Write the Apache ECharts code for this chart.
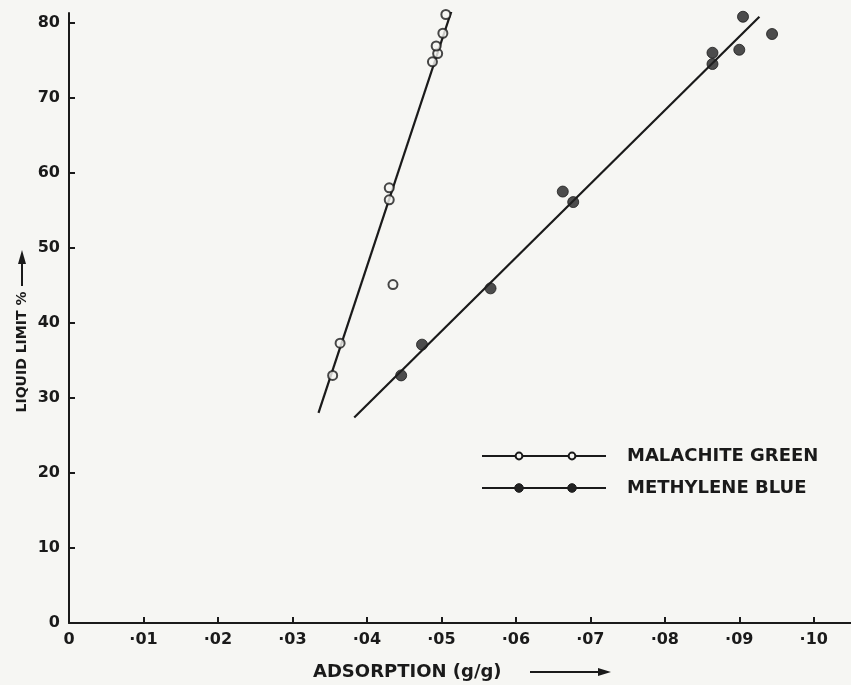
<!DOCTYPE html>
<html>
<head>
<meta charset="utf-8">
<script src="https://cdn.jsdelivr.net/npm/echarts@6/dist/echarts.min.js"></script>
<style>
html,body{margin:0;padding:0;background:#f6f6f3;}
#chart{width:851px;height:685px;}
</style>
</head>
<body>
<div id="chart"></div>
<script>
// Data
const malachiteX = [0.0354, 0.0364, 0.0435, 0.0430, 0.0430, 0.0488, 0.0495, 0.0493, 0.0502, 0.0506];
const malachiteY = [33.0, 37.3, 45.1, 56.4, 58.0, 74.8, 75.9, 76.9, 78.6, 81.1];
const methyleneX = [0.0446, 0.0474, 0.0566, 0.0663, 0.0677, 0.0864, 0.0864, 0.0900, 0.0905, 0.0944];
const methyleneY = [33.0, 37.1, 44.6, 57.5, 56.1, 74.5, 76.0, 76.4, 80.8, 78.5];
const malachiteLineX = [0.0335, 0.0514];
const malachiteLineY = [28.0, 81.7];
const methyleneLineX = [0.0383, 0.0927];
const methyleneLineY = [27.4, 80.8];
const seriesNames = ['MALACHITE GREEN', 'METHYLENE BLUE'];

const zip = (xs, ys) => xs.map((x, i) => [x, ys[i]]);
const ink = '#1a1a1a';
const paper = '#f6f6f3';
const font = '"DejaVu Sans", "Liberation Sans", sans-serif';

const chart = echarts.init(document.getElementById('chart'));
chart.setOption({
  backgroundColor: paper,
  animation: false,
  grid: {left: 69, right: -2, top: 13, bottom: 62},
  xAxis: {
    type: 'value', min: 0, max: 0.105, interval: 0.01,
    splitLine: {show: false},
    axisLine: {lineStyle: {color: ink, width: 2}},
    axisTick: {inside: true, length: 6, lineStyle: {color: ink, width: 2}},
    axisLabel: {
      color: ink, fontFamily: font, fontWeight: 'bold', fontSize: 16, margin: 9,
      showMaxLabel: false,
      formatter: v => {
        const k = Math.round(v * 100);
        if (Math.abs(v * 100 - k) > 1e-6) return '';
        return k === 0 ? '0' : '·' + String(k).padStart(2, '0');
      }
    }
  },
  yAxis: {
    type: 'value', min: 0, max: 81.3, interval: 10,
    splitLine: {show: false},
    axisLine: {lineStyle: {color: ink, width: 2}},
    axisTick: {inside: true, length: 6, lineStyle: {color: ink, width: 2}},
    axisLabel: {
      color: ink, fontFamily: font, fontWeight: 'bold', fontSize: 16, margin: 9,
      showMaxLabel: false,
      formatter: v => (Math.abs(v % 10) < 1e-6 ? String(v) : '')
    }
  },
  series: [
    {type: 'line', data: zip(malachiteLineX, malachiteLineY), showSymbol: false,
     lineStyle: {color: ink, width: 2.2}, z: 2},
    {type: 'line', data: zip(methyleneLineX, methyleneLineY), showSymbol: false,
     lineStyle: {color: ink, width: 2.2}, z: 2},
    {name: seriesNames[0], type: 'scatter', data: zip(malachiteX, malachiteY),
     symbol: 'circle', symbolSize: 9,
     itemStyle: {color: paper, borderColor: ink, borderWidth: 2}, z: 3},
    {name: seriesNames[1], type: 'scatter', data: zip(methyleneX, methyleneY),
     symbol: 'circle', symbolSize: 11,
     itemStyle: {color: '#222', borderColor: ink, borderWidth: 1}, z: 3}
  ],
  graphic: [
    // legend
    {type: 'line', shape: {x1: 482, y1: 456, x2: 606, y2: 456}, style: {stroke: ink, lineWidth: 2.2}},
    {type: 'circle', shape: {cx: 519, cy: 456, r: 3.4}, style: {fill: paper, stroke: ink, lineWidth: 2}},
    {type: 'circle', shape: {cx: 572, cy: 456, r: 3.4}, style: {fill: paper, stroke: ink, lineWidth: 2}},
    {type: 'text', x: 627, y: 456, style: {text: seriesNames[0], fill: ink, font: 'bold 18px ' + font, verticalAlign: 'middle'}},
    {type: 'line', shape: {x1: 482, y1: 488, x2: 606, y2: 488}, style: {stroke: ink, lineWidth: 2.2}},
    {type: 'circle', shape: {cx: 519, cy: 488, r: 4.3}, style: {fill: '#222', stroke: ink, lineWidth: 1}},
    {type: 'circle', shape: {cx: 572, cy: 488, r: 4.3}, style: {fill: '#222', stroke: ink, lineWidth: 1}},
    {type: 'text', x: 627, y: 488, style: {text: seriesNames[1], fill: ink, font: 'bold 18px ' + font, verticalAlign: 'middle'}},
    // x axis title
    {type: 'text', x: 313, y: 672, style: {text: 'ADSORPTION (g/g)', fill: ink, font: 'bold 18px ' + font, verticalAlign: 'middle'}},
    {type: 'line', shape: {x1: 530, y1: 672, x2: 600, y2: 672}, style: {stroke: ink, lineWidth: 2}},
    {type: 'polygon', shape: {points: [[598, 668], [611, 672], [598, 676]]}, style: {fill: ink}},
    // y axis title
    {type: 'text', x: 22, y: 352, rotation: Math.PI / 2,
     style: {text: 'LIQUID LIMIT %', fill: ink, font: 'bold 14px ' + font, align: 'center', verticalAlign: 'middle'}},
    {type: 'line', shape: {x1: 22, y1: 286, x2: 22, y2: 262}, style: {stroke: ink, lineWidth: 2}},
    {type: 'polygon', shape: {points: [[18, 264], [22, 250], [26, 264]]}, style: {fill: ink}}
  ]
});
</script>
</body>
</html>
